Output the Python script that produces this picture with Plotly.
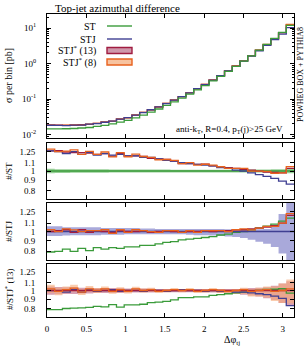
import numpy as np
import plotly.graph_objects as go

# ---------------- data ----------------
N_BINS = 32
PHI_MAX = np.pi

# ST cross section per bin [pb]
st_xsec = [0.0145, 0.0145, 0.0146, 0.0148, 0.0153, 0.0158, 0.0170, 0.0182,
           0.0200, 0.0224, 0.0251, 0.0295, 0.0355, 0.0427, 0.0525, 0.0661,
           0.0832, 0.107, 0.138, 0.182, 0.240, 0.324, 0.437, 0.603,
           0.832, 1.17, 1.66, 2.40, 3.47, 5.13, 7.59, 12.0]
st_rel_unc = [0.025, 0.022, 0.022, 0.02, 0.02, 0.02, 0.02, 0.02,
              0.018, 0.018, 0.018, 0.018, 0.017, 0.017, 0.017, 0.017,
              0.016, 0.016, 0.016, 0.016, 0.016, 0.016, 0.016, 0.016,
              0.016, 0.016, 0.017, 0.018, 0.018, 0.02, 0.022, 0.025]
# STJ / ST
stj_over_st = [1.26, 1.25, 1.22, 1.25, 1.21, 1.24, 1.20, 1.22,
               1.20, 1.21, 1.19, 1.19, 1.17, 1.17, 1.15, 1.13,
               1.12, 1.10, 1.09, 1.08, 1.07, 1.06, 1.04, 1.03,
               1.01, 1.00, 0.98, 0.96, 0.94, 0.92, 0.89, 0.86]
# STJ*(13) / STJ
stj13_over_stj = [1.00, 1.01, 1.02, 0.99, 1.02, 0.99, 1.01, 1.00,
                  0.99, 1.01, 1.00, 1.00, 1.01, 0.99, 1.00, 1.01,
                  1.00, 0.99, 1.00, 1.00, 1.01, 1.00, 1.01, 1.01,
                  1.02, 1.02, 1.03, 1.04, 1.05, 1.07, 1.10, 1.20]
# STJ*(8) / STJ*(13)
stj8_over_stj13 = [1.02, 0.99, 1.01, 1.03, 0.98, 1.02, 1.00, 1.02,
                   0.99, 1.01, 0.99, 1.02, 1.00, 1.01, 0.99, 1.00,
                   1.01, 1.00, 1.01, 0.99, 1.00, 1.01, 1.00, 0.99,
                   1.00, 1.01, 0.99, 1.00, 1.01, 0.99, 1.00, 1.02]
# STJ uncertainty band (factors relative to STJ)
stj_unc_up = [1.06, 1.06, 1.05, 1.05, 1.05, 1.05, 1.05, 1.04,
              1.04, 1.04, 1.04, 1.04, 1.035, 1.035, 1.03, 1.03,
              1.03, 1.03, 1.03, 1.03, 1.03, 1.03, 1.03, 1.025,
              1.025, 1.025, 1.025, 1.025, 1.03, 1.08, 1.22, 1.50]
stj_unc_dn = [0.95, 0.95, 0.955, 0.96, 0.96, 0.96, 0.96, 0.965,
              0.965, 0.965, 0.97, 0.97, 0.97, 0.97, 0.97, 0.97,
              0.97, 0.97, 0.965, 0.96, 0.96, 0.955, 0.95, 0.945,
              0.94, 0.93, 0.91, 0.89, 0.87, 0.84, 0.78, 0.60]
# STJ*(13) uncertainty band (factors relative to STJ*(13))
stj13_unc_up = [1.05, 1.045, 1.04, 1.04, 1.035, 1.035, 1.03, 1.03,
                1.03, 1.03, 1.025, 1.025, 1.025, 1.025, 1.02, 1.02,
                1.02, 1.02, 1.02, 1.02, 1.02, 1.02, 1.02, 1.02,
                1.02, 1.025, 1.03, 1.035, 1.04, 1.06, 1.09, 1.12]
stj13_unc_dn = [0.95, 0.955, 0.96, 0.96, 0.965, 0.965, 0.97, 0.97,
                0.97, 0.97, 0.975, 0.975, 0.975, 0.975, 0.98, 0.98,
                0.98, 0.98, 0.98, 0.98, 0.975, 0.975, 0.97, 0.965,
                0.96, 0.95, 0.94, 0.93, 0.91, 0.89, 0.86, 0.84]

x_ticks = [0, 0.5, 1, 1.5, 2, 2.5, 3]
x_tick_labels = ["0", "0.5", "1", "1.5", "2", "2.5", "3"]
main_y_ticks = [0.01, 0.1, 1, 10]
main_y_labels = ["10<sup>-2</sup>", "10<sup>-1</sup>", "10<sup>0</sup>", "10<sup>1</sup>"]
ratio_ticks = [0.8, 0.9, 1, 1.1, 1.25]
ratio_labels = ["0.8", "0.9", "1", "1.1", "1.25"]

# ---------------- derived ----------------
edges = np.linspace(0, PHI_MAX, N_BINS + 1)
st = np.array(st_xsec)
stj = st * np.array(stj_over_st)
stj13 = stj * np.array(stj13_over_stj)
stj8 = stj13 * np.array(stj8_over_stj13)

C_GREEN = "#3a9b3a"
C_BLUE = "#3f3f92"
C_RED = "#a01c40"
C_ORANGE = "#e8621e"
F_GREEN = "#96cf96"
F_BLUE = "#a9a9da"
F_RED = "rgba(212,150,170,0.9)"
F_ORANGE = "rgba(246,170,120,0.6)"

FONT = "Liberation Serif"

fig = go.Figure()


def stepy(v):
    v = np.asarray(v, dtype=float)
    return np.append(v, v[-1])


def line(v, color, row, width=1.3):
    ax = "" if row == 1 else str(row)
    fig.add_trace(go.Scatter(x=edges, y=stepy(v), mode="lines",
                             line=dict(color=color, width=width, shape="hv"),
                             xaxis="x" + ax, yaxis="y" + ax,
                             showlegend=False, hoverinfo="skip"))


def band(lo, hi, fill, row):
    ax = "" if row == 1 else str(row)
    fig.add_trace(go.Scatter(x=edges, y=stepy(lo), mode="lines",
                             line=dict(width=0, shape="hv", color=fill),
                             xaxis="x" + ax, yaxis="y" + ax,
                             showlegend=False, hoverinfo="skip"))
    fig.add_trace(go.Scatter(x=edges, y=stepy(hi), mode="lines",
                             line=dict(width=0, shape="hv", color=fill),
                             fill="tonexty", fillcolor=fill,
                             xaxis="x" + ax, yaxis="y" + ax,
                             showlegend=False, hoverinfo="skip"))


# main panel
line(stj13, C_RED, 1)
line(stj8, C_ORANGE, 1)
line(stj, C_BLUE, 1)
line(st, C_GREEN, 1)

# ratio #/ST
unc = np.array(st_rel_unc)
band(1 - unc, 1 + unc, F_GREEN, 2)
line(st / st, C_GREEN, 2)
line(stj13 / st, C_RED, 2)
line(stj / st, C_BLUE, 2)
line(stj8 / st, C_ORANGE, 2)

# ratio #/STJ
band(np.array(stj_unc_dn), np.array(stj_unc_up), F_BLUE, 3)
line(st / stj, C_GREEN, 3)
line(stj / stj, C_BLUE, 3)
line(stj13 / stj, C_RED, 3)
line(stj8 / stj, C_ORANGE, 3)

# ratio #/STJ*(13)
band(np.array(stj13_unc_dn), np.array(stj13_unc_up), F_RED, 4)
r8 = stj8 / stj13
band(r8 * np.array(stj13_unc_dn), r8 * np.array(stj13_unc_up), F_ORANGE, 4)
line(st / stj13, C_GREEN, 4)
line(stj / stj13, C_BLUE, 4)
line(stj13 / stj13, C_RED, 4)
line(stj8 / stj13, C_ORANGE, 4)

# ---------------- layout ----------------
W, H = 307, 349
ML, MR, MT, MB = 47, 13, 14, 32
PW, PH = W - ML - MR, H - MT - MB


def px(xp):
    return (xp - ML) / PW


def py(yp):
    return (H - MB - yp) / PH


domains = [(py(138), 1.0), (py(199), py(143)), (py(260), py(203)), (0.0, py(264))]

tickfont = dict(family=FONT, size=9, color="black")
common_axis = dict(showline=True, linecolor="black", linewidth=1, mirror="allticks",
                   ticks="inside", ticklen=4, tickcolor="black", tickwidth=1,
                   showgrid=False, zeroline=False, tickfont=tickfont, automargin=False)

layout = dict(width=W, height=H, margin=dict(l=ML, r=MR, t=MT, b=MB, autoexpand=False),
              paper_bgcolor="white", plot_bgcolor="white",
              font=dict(family=FONT, size=9, color="black"), showlegend=False)

for i in range(4):
    ax = "" if i == 0 else str(i + 1)
    xa = dict(common_axis, range=[0, PHI_MAX], tickvals=x_ticks, ticktext=x_tick_labels,
              anchor="y" + ax, domain=[0, 1], showticklabels=(i == 3),
              ticklabelstandoff=3)
    if i > 0:
        xa["matches"] = "x"
    layout["xaxis" + ax] = xa
    if i == 0:
        ya = dict(common_axis, type="log", range=[np.log10(0.008), np.log10(25)],
                  tickvals=main_y_ticks, ticktext=main_y_labels,
                  minor=dict(ticks="inside", ticklen=2, tickcolor="black", dtick="D1", showgrid=False),
                  ticklabelstandoff=8)
    else:
        ya = dict(common_axis, type="log", range=[np.log10(0.725), np.log10(1.38)],
                  tickvals=ratio_ticks, ticktext=ratio_labels, ticklabelstandoff=9)
    ya.update(anchor="x" + ax, domain=list(domains[i]))
    layout["yaxis" + ax] = ya

fig.update_layout(**layout)

ann = []
ann.append(dict(text="Top-jet azimuthal difference", x=px(53), y=py(8), xref="paper", yref="paper",
                xanchor="left", yanchor="middle", showarrow=False,
                font=dict(family=FONT, size=11)))
ann.append(dict(text="σ per bin [pb]", x=px(8), y=py(76), xref="paper", yref="paper",
                textangle=-90, showarrow=False, xanchor="center", yanchor="middle",
                font=dict(family=FONT, size=10)))
for label, yc in [("#/ST", 171), ("#/STJ", 231), ("#/STJ<sup>*</sup> (13)", 290)]:
    ann.append(dict(text=label, x=px(9), y=py(yc), xref="paper", yref="paper",
                    textangle=-90, showarrow=False, xanchor="center", yanchor="middle",
                    font=dict(family=FONT, size=9)))
ann.append(dict(text="Δφ<sub>tj</sub>", x=px(232), y=py(340), xref="paper", yref="paper",
                showarrow=False, xanchor="center", yanchor="middle",
                font=dict(family=FONT, size=10)))
ann.append(dict(text="anti-k<sub>T</sub>, R=0.4, p<sub>T</sub>(j)&gt;25 GeV", x=px(285), y=py(129),
                xref="paper", yref="paper", showarrow=False, xanchor="right", yanchor="middle",
                font=dict(family=FONT, size=9)))
ann.append(dict(text="POWHEG BOX + PYTHIA8", x=px(300), y=py(75), xref="paper", yref="paper",
                textangle=-90, showarrow=False, xanchor="center", yanchor="middle",
                font=dict(family=FONT, size=8)))

legend_items = [("ST", 26, "line", C_GREEN, None),
                ("STJ", 39, "line", C_BLUE, None),
                ("STJ<sup>*</sup> (13)", 50.5, "box", C_RED, "#cf98ab"),
                ("STJ<sup>*</sup> (8)", 62, "box", C_ORANGE, "#f7c3a0")]
shapes = []
for text, yc, kind, col, fillc in legend_items:
    ann.append(dict(text=text, x=px(98), y=py(yc), xref="paper", yref="paper",
                    showarrow=False, xanchor="right", yanchor="middle",
                    font=dict(family=FONT, size=10)))
    if kind == "line":
        shapes.append(dict(type="line", xref="paper", yref="paper", x0=px(107), x1=px(132),
                           y0=py(yc), y1=py(yc), line=dict(color=col, width=1.4)))
    else:
        shapes.append(dict(type="rect", xref="paper", yref="paper", x0=px(107), x1=px(132),
                           y0=py(yc + 3), y1=py(yc - 3), fillcolor=fillc,
                           line=dict(color=col, width=1.4)))

fig.update_layout(annotations=ann, shapes=shapes)
fig.write_html("out.html", config={"displayModeBar": False},
               post_script="document.body.style.margin='0px';document.body.style.padding='0px';")
